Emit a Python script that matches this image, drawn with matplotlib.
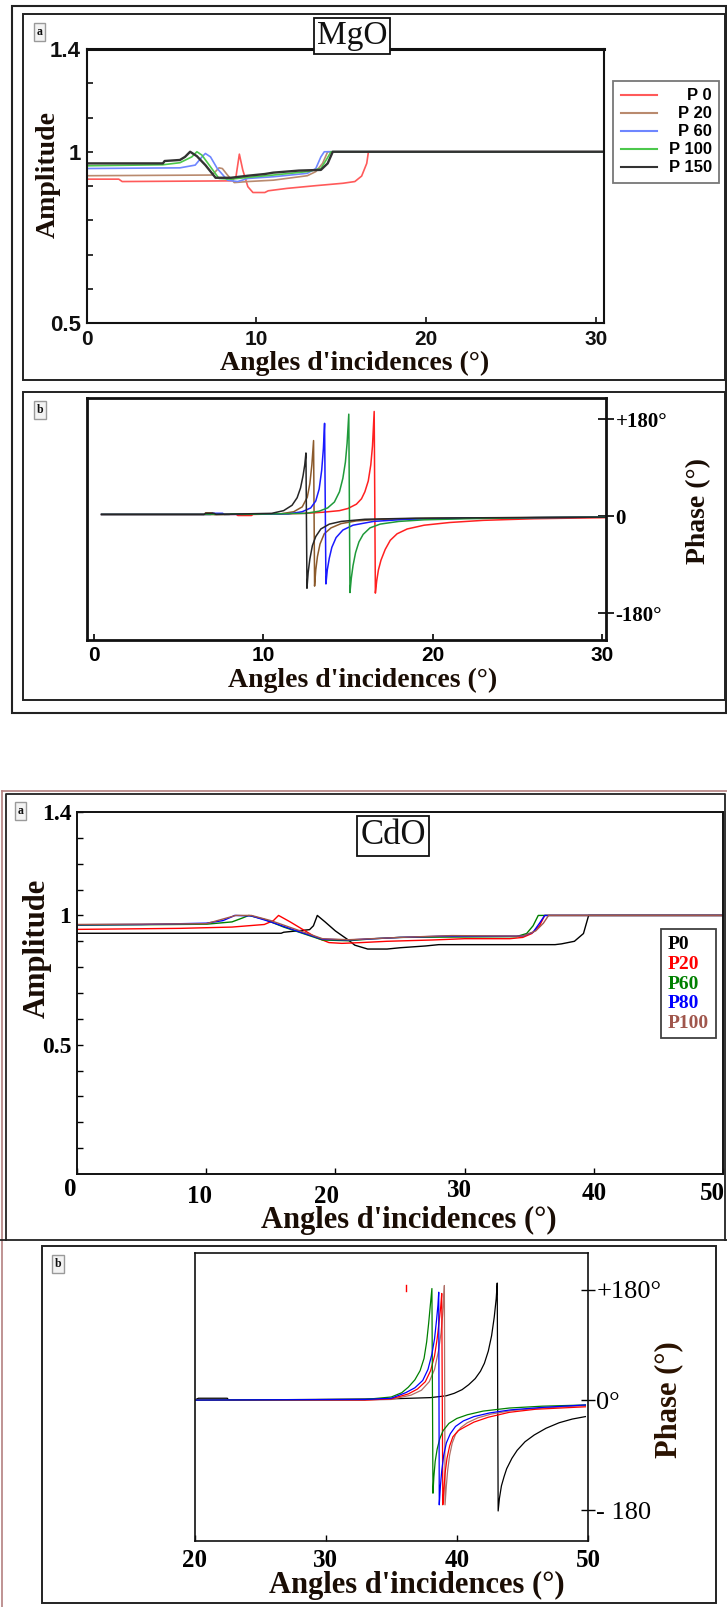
import matplotlib
matplotlib.use("Agg")
import numpy as np
import matplotlib.pyplot as plt
from matplotlib.patches import Rectangle
from matplotlib.lines import Line2D
from matplotlib.ticker import FixedLocator, NullFormatter
from matplotlib.transforms import ScaledTranslation, Affine2D

# ---------------------------------------------------------------- data
# MgO : amplitude versus angle of incidence (degrees)
mgo_labels = ["P 0", "P 20", "P 60", "P 100", "P 150"]
mgo_amp_colors = ["#ff5a5a", "#b98a6e", "#6e86ff", "#4cc84c", "#333333"]

mgo_amp_p0_x = [0, 1.9, 2.1, 8.55, 8.8, 9.0, 9.2, 9.5, 9.8, 10.5, 10.7, 11.8, 13.5, 15.1, 15.8, 16.2, 16.5, 16.6, 30.4]
mgo_amp_p0_y = [0.920, 0.920, 0.913, 0.915, 0.927, 0.993, 0.947, 0.898, 0.881, 0.881, 0.886, 0.893, 0.901, 0.908, 0.913, 0.929, 0.966, 1.0, 1.0]
mgo_amp_p20_x = [0, 7.4, 7.8, 8.0, 8.3, 8.7, 9.5, 11.0, 13.0, 13.5, 13.9, 14.2, 30.4]
mgo_amp_p20_y = [0.930, 0.932, 0.953, 0.951, 0.932, 0.910, 0.913, 0.917, 0.930, 0.942, 0.966, 1.0, 1.0]
mgo_amp_p60_x = [0, 5.5, 6.4, 6.8, 7.0, 7.3, 7.7, 8.3, 8.9, 9.5, 11.0, 13.0, 13.5, 13.8, 14.0, 30.4]
mgo_amp_p60_y = [0.951, 0.953, 0.961, 0.985, 0.995, 0.985, 0.951, 0.917, 0.913, 0.922, 0.927, 0.937, 0.951, 0.985, 1.0, 1.0]
mgo_amp_p100_x = [0, 4.5, 5.5, 6.2, 6.5, 6.8, 7.3, 7.8, 8.5, 9.5, 11.0, 13.0, 13.8, 14.1, 14.4, 30.4]
mgo_amp_p100_y = [0.959, 0.962, 0.968, 0.985, 1.0, 0.990, 0.956, 0.922, 0.920, 0.925, 0.932, 0.942, 0.951, 0.975, 1.0, 1.0]
mgo_amp_p150_x = [0, 4.5, 4.6, 5.5, 5.8, 6.1, 6.5, 7.0, 7.6, 8.5, 9.5, 10.5, 11.0, 12.5, 13.8, 14.2, 14.5, 30.4]
mgo_amp_p150_y = [0.966, 0.966, 0.973, 0.976, 0.985, 1.0, 0.987, 0.961, 0.924, 0.924, 0.930, 0.935, 0.939, 0.945, 0.947, 0.966, 1.0, 1.0]

# MgO : phase (degrees) versus angle of incidence
mgo_ph_colors = ["#ff2020", "#8b5a2b", "#1a1aff", "#1f9a3a", "#262626"]
mgo_ph_p0_x = [0.45, 8.4, 8.5, 9.3, 9.4, 12.5, 13.5, 14.5, 15.0, 15.5, 15.8, 16.0, 16.2, 16.35, 16.45, 16.55,
               16.62, 16.7, 16.8, 16.95, 17.2, 17.5, 17.9, 18.5, 19.5, 21.0, 23.0, 26.0, 30.2]
mgo_ph_p0_y = [3, 3, 1, 1, 3, 5, 7, 10, 14, 22, 32, 45, 65, 95, 130, 194,
               -143, -120, -100, -82, -62, -45, -33, -24, -17, -12, -8, -5, -3]
mgo_ph_p20_x = [0.45, 6.5, 6.6, 7.0, 7.1, 11.0, 11.8, 12.3, 12.6, 12.75, 12.87, 12.97,
                13.03, 13.1, 13.2, 13.35, 13.6, 14.0, 14.6, 15.5, 17.0, 20.0, 30.2]
mgo_ph_p20_y = [3, 3, 6, 6, 3, 4, 8, 17, 35, 60, 95, 140,
                -130, -100, -75, -52, -33, -22, -14, -9, -6, -4, -2]
mgo_ph_p60_x = [0.45, 6.9, 7.0, 7.6, 7.7, 11.5, 12.3, 12.8, 13.1, 13.3, 13.45, 13.55, 13.62,
                13.7, 13.78, 13.9, 14.05, 14.3, 14.7, 15.3, 16.5, 18.5, 22.0, 30.2]
mgo_ph_p60_y = [3, 3, 5, 5, 3, 4, 8, 15, 28, 50, 85, 125, 172,
                -126, -100, -78, -58, -40, -26, -17, -10, -6, -4, -2]
mgo_ph_p100_x = [0.45, 8.0, 8.1, 8.6, 8.7, 12.5, 13.3, 13.8, 14.2, 14.5, 14.7, 14.85, 14.95, 15.05,
                 15.12, 15.2, 15.3, 15.45, 15.65, 15.9, 16.3, 16.9, 18.0, 19.5, 22.0, 26.0, 30.2]
mgo_ph_p100_y = [3, 3, 4, 4, 3, 5, 9, 15, 26, 45, 70, 100, 135, 189,
                 -142, -115, -92, -68, -48, -34, -22, -15, -10, -7, -5, -3, -2]
mgo_ph_p150_x = [0.45, 6.5, 6.6, 7.1, 7.2, 10.5, 11.2, 11.7, 12.0, 12.2, 12.35, 12.45, 12.52,
                 12.58, 12.65, 12.75, 12.9, 13.1, 13.4, 13.9, 14.6, 16.0, 19.0, 24.0, 30.2]
mgo_ph_p150_y = [3, 3, 5, 5, 3, 5, 10, 20, 34, 52, 75, 95, 117,
                 -134, -105, -80, -55, -38, -24, -15, -10, -6, -4, -3, -2]

# CdO : amplitude versus angle of incidence
cdo_labels = ["P0", "P20", "P60", "P80", "P100"]
cdo_colors = ["#000000", "#ff0000", "#008000", "#0000ff", "#a0564c"]
cdo_amp_p0_x = [0, 15.8, 16.0, 18.0, 18.3, 18.6, 19.2, 20.0, 21.0, 21.5, 22.5, 24.0, 25.0, 27.0, 28.0, 37.0, 37.5, 38.5, 39.2, 39.6, 50]
cdo_amp_p0_y = [0.931, 0.931, 0.935, 0.945, 0.960, 1.0, 0.975, 0.940, 0.905, 0.885, 0.870, 0.870, 0.875, 0.882, 0.887, 0.887, 0.890, 0.900, 0.930, 1.0, 1.0]
cdo_amp_p20_x = [0, 8, 12, 14.5, 15.2, 15.6, 16.5, 17.5, 18.5, 19.5, 20.5, 22, 24, 27.5, 30, 33.5, 34.5, 35.2, 35.8, 36.2, 50]
cdo_amp_p20_y = [0.946, 0.950, 0.955, 0.965, 0.980, 1.0, 0.975, 0.945, 0.915, 0.895, 0.892, 0.895, 0.900, 0.905, 0.910, 0.910, 0.915, 0.930, 0.960, 1.0, 1.0]
cdo_amp_p60_x = [0, 10, 12, 12.8, 13.3, 14.5, 16, 17.5, 19, 21, 23, 25, 34, 34.8, 35.3, 35.7, 50]
cdo_amp_p60_y = [0.962, 0.966, 0.975, 0.990, 1.0, 0.985, 0.955, 0.930, 0.905, 0.902, 0.910, 0.915, 0.918, 0.930, 0.960, 1.0, 1.0]
cdo_amp_p80_x = [0, 5, 10, 11.3, 12.0, 12.2, 13.5, 15, 17, 19, 21, 25, 28.5, 34.5, 35.3, 35.8, 36.2, 50]
cdo_amp_p80_y = [0.964, 0.965, 0.970, 0.980, 0.995, 1.0, 0.998, 0.975, 0.940, 0.908, 0.905, 0.915, 0.920, 0.920, 0.935, 0.970, 1.0, 1.0]
cdo_amp_p100_x = [0, 10, 12.3, 13.5, 15, 17, 19, 21, 25, 29, 34.5, 35.5, 36.1, 36.5, 50]
cdo_amp_p100_y = [0.965, 0.968, 1.0, 1.0, 0.980, 0.945, 0.910, 0.906, 0.915, 0.922, 0.920, 0.940, 0.970, 1.0, 1.0]

# CdO : phase versus angle of incidence
cdo_ph_p0_x = [20, 20.3, 22.5, 22.6, 35, 38, 39.2, 39.8, 40.4, 40.9, 41.4, 41.8, 42.1, 42.4, 42.65, 42.85, 43.0, 43.08,
               43.15, 43.25, 43.4, 43.6, 43.8, 44.2, 44.6, 45.2, 45.9, 46.8, 47.8, 48.8, 49.8]
cdo_ph_p0_y = [0, 3, 3, 0, 2, 4, 7, 11, 17, 25, 35, 47, 60, 80, 105, 135, 165, 191,
               -181, -160, -140, -125, -112, -95, -82, -68, -57, -46, -37, -31, -27]
cdo_ph_p20_x = [20, 33, 35, 36.3, 37.0, 37.6, 38.0, 38.3, 38.5, 38.65, 38.77, 38.85,
                38.93, 39.0, 39.1, 39.25, 39.45, 39.7, 40.1, 40.6, 41.3, 42.4, 44.0, 46.0, 49.8]
cdo_ph_p20_y = [0, 0, 2, 10, 18, 30, 48, 72, 100, 128, 152, 174,
                -171, -150, -120, -95, -75, -60, -50, -44, -36, -28, -20, -15, -11]
cdo_ph_p20_mark_x = [36.15, 36.15]
cdo_ph_p20_mark_y = [178, 187]
cdo_ph_p60_x = [20, 33, 35, 35.8, 36.3, 36.8, 37.2, 37.5, 37.7, 37.85, 37.98, 38.1,
                38.18, 38.25, 38.35, 38.5, 38.7, 38.95, 39.4, 40.0, 40.8, 42.0, 44.0, 46.5, 49.8]
cdo_ph_p60_y = [0, 1, 5, 12, 21, 33, 48, 68, 95, 125, 155, 182,
                -152, -125, -100, -80, -63, -50, -38, -30, -24, -18, -13, -10, -8]
cdo_ph_p80_x = [20, 33, 35, 36.1, 36.8, 37.4, 37.8, 38.1, 38.3, 38.45, 38.56, 38.62,
                38.66, 38.75, 38.85, 39.0, 39.2, 39.5, 39.9, 40.5, 41.3, 42.5, 44.1, 46.5, 49.8]
cdo_ph_p80_y = [0, 1, 3, 12, 20, 32, 50, 75, 100, 130, 155, 176,
                -171, -140, -115, -90, -70, -55, -43, -34, -27, -21, -16, -12, -8]
cdo_ph_p100_x = [20, 33, 35, 36.5, 37.3, 37.9, 38.3, 38.6, 38.8, 38.92, 39.0, 39.05,
                 39.1, 39.2, 39.3, 39.45, 39.65, 39.9, 40.3, 40.8, 41.6, 42.6, 44.2, 46.5, 49.8]
cdo_ph_p100_y = [0, 0, 1, 8, 16, 30, 50, 80, 110, 140, 165, 187,
                 -171, -140, -115, -90, -70, -56, -45, -37, -29, -23, -17, -13, -9]

# ---------------------------------------------------------------- layout helpers
W, H, DPI = 727, 1607, 100
SERIF = "Liberation Serif"
SANS = "Liberation Sans"
INK = "#1a0d05"

fig = plt.figure(figsize=(W / DPI, H / DPI), dpi=DPI)
fig.patch.set_facecolor("white")


def fx(x):
    return x / W


def fy(y):
    return 1 - y / H


def add_axes_px(x0, y0, x1, y1):
    return fig.add_axes([fx(x0), fy(y1), (x1 - x0) / W, (y1 - y0) / H])


def rect_px(x0, y0, x1, y1, color="#222222", lw=1.3):
    fig.add_artist(Rectangle((fx(x0), fy(y1)), (x1 - x0) / W, (y1 - y0) / H,
                             transform=fig.transFigure, fill=False,
                             edgecolor=color, linewidth=lw))


def line_px(xs, ys, color="#222222", lw=1.3):
    fig.add_artist(Line2D([fx(v) for v in xs], [fy(v) for v in ys],
                          transform=fig.transFigure, color=color, linewidth=lw))


def text_px(x, y, s, **kw):
    kw.setdefault("ha", "center")
    kw.setdefault("va", "center")
    return fig.text(fx(x), fy(y), s, **kw)


def tag_px(x, y, s):
    text_px(x, y, s, fontsize=8.5, fontweight="bold", family=SERIF, color="#111111",
            bbox=dict(boxstyle="square,pad=0.25", fc="#f3f3f3", ec="#9a9a9a", lw=1.0))


def style_spines(ax, lw, color="#111111"):
    for sp in ax.spines.values():
        sp.set_linewidth(lw)
        sp.set_color(color)


# ---------------------------------------------------------------- frames
rect_px(12, 6, 726, 713, lw=1.5)
rect_px(23, 14, 725, 380, lw=1.4)
rect_px(23, 392, 725, 700, lw=1.4)

line_px([2, 2], [791, 1607], color="#b48080", lw=1.2)
line_px([2, 727], [791, 791], color="#b48080", lw=1.2)
line_px([6, 6, 725, 725], [1240, 794, 794, 1240], lw=1.3)
line_px([0, 727], [1240, 1240], lw=1.3)
rect_px(42, 1246, 716, 1603, lw=1.4)

# ---------------------------------------------------------------- MgO amplitude
ax1 = add_axes_px(86.5, 49, 604, 323)


def amp_fwd(y):
    y = np.asarray(y, float)
    return np.where(y <= 1, (y - 0.5) * 10.0, 5.0 + (y - 1.0) * 7.5)


def amp_inv(t):
    t = np.asarray(t, float)
    return np.where(t <= 5, 0.5 + t / 10.0, 1.0 + (t - 5.0) / 7.5)


ax1.set_yscale("function", functions=(amp_fwd, amp_inv))
mgo_amp = [(mgo_amp_p0_x, mgo_amp_p0_y), (mgo_amp_p20_x, mgo_amp_p20_y),
           (mgo_amp_p60_x, mgo_amp_p60_y), (mgo_amp_p100_x, mgo_amp_p100_y),
           (mgo_amp_p150_x, mgo_amp_p150_y)]
handles = []
for (xs, ys), c, lab in zip(mgo_amp, mgo_amp_colors, mgo_labels):
    lw = 1.7 if lab == "P 150" else 1.2
    h, = ax1.plot(xs, ys, color=c, lw=lw, label=lab)
    handles.append(h)
ax1.set_xlim(0, 30.47)
ax1.set_ylim(0.5, 1.4)
ax1.set_xticks([0, 10, 20, 30], ["0", "10", "20", "30"],
               fontsize=15, fontweight="bold", family=SANS)
ax1.set_yticks([0.5, 1.0, 1.4], ["0.5", "1", "1.4"], fontsize=16, fontweight="bold", family=SANS)
ax1.yaxis.set_minor_locator(FixedLocator([0.6, 0.7, 0.8, 0.9, 1 + 0.4 / 3, 1 + 0.8 / 3]))
ax1.yaxis.set_minor_formatter(NullFormatter())
ax1.tick_params(axis="both", which="both", direction="in", length=4, width=1.2, colors="#111111")
ax1.tick_params(axis="x", pad=5)
ax1.tick_params(axis="y", pad=4)
style_spines(ax1, 1.5)
ax1.spines["top"].set_linewidth(2.2)

leg1 = ax1.legend(handles, mgo_labels, loc="upper left",
                  bbox_to_anchor=(fx(613), fy(81)), bbox_transform=fig.transFigure,
                  prop=dict(family=SANS, weight="bold", size=12),
                  frameon=True, fancybox=False, edgecolor="#555555",
                  handlelength=2.2, labelspacing=0.18, borderpad=0.45,
                  handletextpad=0.7, borderaxespad=0)
leg1.get_frame().set_linewidth(1.3)
for lh in leg1.get_lines():
    lh.set_linewidth(1.5)

text_px(352, 36, "MgO", fontsize=24, family=SERIF, color="#111111",
        bbox=dict(boxstyle="square,pad=0.08", fc="white", ec="#111111", lw=1.3))
text_px(48, 174, "Amplitude", fontsize=20, fontweight="bold", family=SERIF,
        rotation=90, color=INK)
text_px(355, 363, "Angles d'incidences (°)", fontsize=20, fontweight="bold",
        family=SERIF, color=INK)
tag_px(39.5, 32, "a")

# ---------------------------------------------------------------- MgO phase
ax2 = add_axes_px(87, 398, 606, 640)
mgo_ph = [(mgo_ph_p0_x, mgo_ph_p0_y), (mgo_ph_p20_x, mgo_ph_p20_y),
          (mgo_ph_p60_x, mgo_ph_p60_y), (mgo_ph_p100_x, mgo_ph_p100_y),
          (mgo_ph_p150_x, mgo_ph_p150_y)]
for (xs, ys), c in zip(mgo_ph, mgo_ph_colors):
    ax2.plot(xs, ys, color=c, lw=1.1)
ax2.set_xlim(-0.41, 30.24)
ax2.set_ylim(-230, 219)
ax2.yaxis.tick_right()
ax2.set_xticks([0, 10, 20, 30], ["0", "10", "20", "30"],
               fontsize=15, fontweight="bold", family=SANS)
ax2.set_yticks([180, 0, -180], ["+180°", "0", "-180°"],
               fontsize=15, fontweight="bold", family=SERIF)
ax2.tick_params(axis="x", direction="in", length=4, width=1.2, pad=4)
ax2.tick_params(axis="y", direction="inout", length=12, width=1.2, pad=1)
style_spines(ax2, 2.0)
text_px(699, 511, "Phase (°)", fontsize=20, fontweight="bold", family=SERIF,
        rotation=90, color=INK)
text_px(363, 680, "Angles d'incidences (°)", fontsize=20, fontweight="bold",
        family=SERIF, color=INK)
tag_px(40, 410, "b")

# ---------------------------------------------------------------- CdO amplitude
ax3 = add_axes_px(77, 812, 723, 1174)
cdo_amp = [(cdo_amp_p0_x, cdo_amp_p0_y), (cdo_amp_p20_x, cdo_amp_p20_y),
           (cdo_amp_p60_x, cdo_amp_p60_y), (cdo_amp_p80_x, cdo_amp_p80_y),
           (cdo_amp_p100_x, cdo_amp_p100_y)]
for (xs, ys), c in zip(cdo_amp, cdo_colors):
    ax3.plot(xs, ys, color=c, lw=1.0)
ax3.set_xlim(0, 50)
ax3.set_ylim(0, 1.4)
ax3.set_xticks([0, 10, 20, 30, 40, 50], ["0", "10", "20", "30", "40", "50"],
               fontsize=18, fontweight="bold", family=SERIF)
ax3.set_yticks([0.5, 1.0, 1.4], ["0.5", "1", "1.4"], fontsize=17, fontweight="bold", family=SERIF)
ax3.yaxis.set_minor_locator(FixedLocator([0.1, 0.2, 0.3, 0.4, 0.6, 0.7, 0.8, 0.9, 1.1, 1.2, 1.3]))
ax3.yaxis.set_minor_formatter(NullFormatter())
ax3.tick_params(axis="both", which="both", direction="in", length=4, width=1.0)
ax3.tick_params(axis="x", pad=6)
ax3.tick_params(axis="y", pad=4)
style_spines(ax3, 1.4)
# staggered horizontal tick labels
cdo_x_shift = [(-7, -4), (-7, 3), (-9, 3), (-5, -3), (0, 0), (-11, 0)]
for lab, (dx, dy) in zip(ax3.get_xticklabels(), cdo_x_shift):
    lab.set_transform(lab.get_transform() + ScaledTranslation(dx / DPI, -dy / DPI, fig.dpi_scale_trans))

leg_handles = [Line2D([], [], linestyle="none") for _ in cdo_labels]
leg3 = ax3.legend(leg_handles, cdo_labels, loc="upper left",
                  bbox_to_anchor=(fx(661), fy(929)), bbox_transform=fig.transFigure,
                  prop=dict(family=SERIF, weight="bold", size=14),
                  labelcolor=cdo_colors, frameon=True, fancybox=False,
                  edgecolor="#111111", handlelength=0, handletextpad=0,
                  labelspacing=0.1, borderpad=0.35, borderaxespad=0)
leg3.get_frame().set_linewidth(1.3)

text_px(393, 836, "CdO", fontsize=25, family=SERIF, color="#111111",
        bbox=dict(boxstyle="square,pad=0.1", fc="white", ec="#111111", lw=1.3))
text_px(37, 948, "Amplitude", fontsize=22, fontweight="bold", family=SERIF,
        rotation=90, color=INK)
text_px(409, 1220, "Angles d'incidences (°)", fontsize=22, fontweight="bold",
        family=SERIF, color=INK)
tag_px(20.5, 811, "a")

# ---------------------------------------------------------------- CdO phase
ax4 = add_axes_px(194.5, 1253, 588, 1541)
cdo_ph = [(cdo_ph_p0_x, cdo_ph_p0_y, cdo_colors[0]),
          (cdo_ph_p100_x, cdo_ph_p100_y, "#b07068"),
          (cdo_ph_p20_x, cdo_ph_p20_y, cdo_colors[1]),
          (cdo_ph_p60_x, cdo_ph_p60_y, cdo_colors[2]),
          (cdo_ph_p80_x, cdo_ph_p80_y, cdo_colors[3])]
for xs, ys, c in cdo_ph:
    ax4.plot(xs, ys, color=c, lw=0.9)
ax4.plot(cdo_ph_p20_mark_x, cdo_ph_p20_mark_y, color=cdo_colors[1], lw=1.0)
ax4.set_xlim(20, 50)
ax4.set_ylim(-230, 240)
ax4.yaxis.tick_right()
ax4.set_xticks([20, 30, 40, 50], ["20", "30", "40", "50"],
               fontsize=18, fontweight="bold", family=SERIF)
ax4.set_yticks([180, 0, -180], ["+180°", "0°", "- 180"], fontsize=19, family=SERIF)
ax4.tick_params(axis="x", direction="in", length=4, width=1.0, pad=6)
ax4.tick_params(axis="y", direction="inout", length=10, width=1.0, pad=1)
style_spines(ax4, 1.2)
text_px(669, 1400, "Phase (°)", fontsize=22, fontweight="bold", family=SERIF,
        rotation=90, color="#2a1200")
text_px(417, 1585, "Angles d'incidences (°)", fontsize=22, fontweight="bold",
        family=SERIF, color=INK)
tag_px(58, 1264, "b")

# right-align the MgO legend labels
fig.canvas.draw()
renderer = fig.canvas.get_renderer()
texts = leg1.get_texts()
widths = [t.get_window_extent(renderer).width for t in texts]
wmax = max(widths)
for t, w in zip(texts, widths):
    t.set_transform(t.get_transform() + Affine2D().translate(wmax - w, 0))

fig.savefig("out.png", dpi=DPI, facecolor="white")
